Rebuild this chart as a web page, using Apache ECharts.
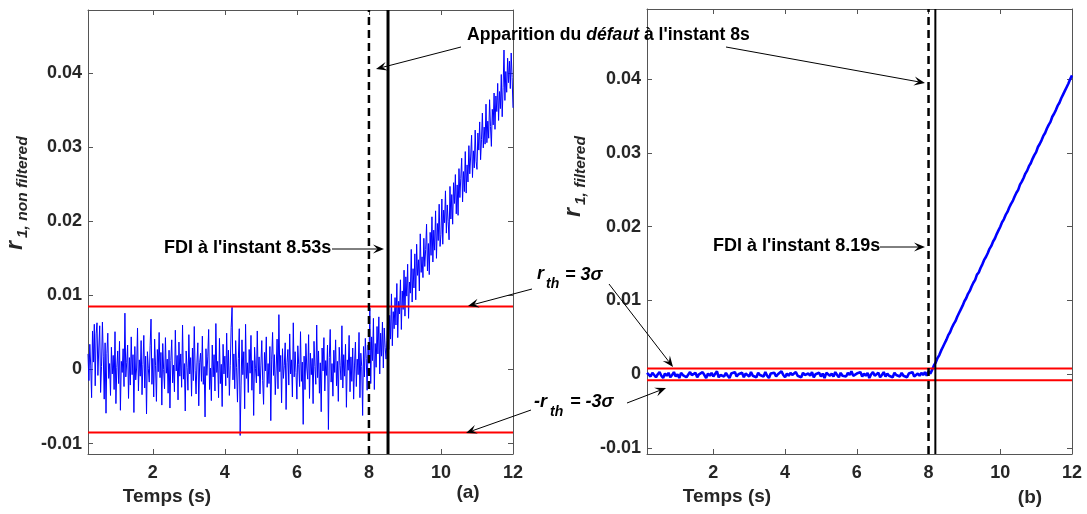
<!DOCTYPE html>
<html><head><meta charset="utf-8">
<script src="https://cdn.jsdelivr.net/npm/echarts@6/dist/echarts.min.js"></script>
<style>html,body{margin:0;padding:0;background:#fff}#c{width:1087px;height:514px}</style>
</head><body><div id="c"></div>
<script>
// ---------------- data ----------------
const xTickValues = [2, 4, 6, 8, 10, 12];
const yTickValues = [-0.01, 0, 0.01, 0.02, 0.03, 0.04];
const faultTime = 8;
const fdiTimeA = 8.53;
const fdiTimeB = 8.19;
const thresholdA = 0.0085;
const thresholdB = 0.0008;
const xRangeA = [0.2, 12], yRangeA = [-0.0114, 0.0485];
const xRangeB = [0.15, 12], yRangeB = [-0.0108, 0.0495];
const xLabel = 'Temps (s)';
const panelLabels = ['(a)', '(b)'];

// (a) non filtered residual, sampled every 0.025 s from 0.2 s, values in 1e-3
const tStartA = 0.2, tStepA = 0.025;
const r1NonFilteredE3 = [
 2.1,-1.5,3.4,0.6,-3.8,5.2,1.0,6.1,-2.2,4.8,
 6.3,-0.8,2.9,5.9,-3.1,0.4,6.4,1.7,-4.0,3.6,
 -5.9,2.2,4.9,-1.2,0.8,-3.5,3.0,-0.6,1.9,-2.7,
 5.1,-4.6,0.3,2.5,-1.9,3.8,-5.5,1.1,-0.4,2.8,
 -2.3,7.6,-1.0,0.9,3.3,-3.9,1.6,-2.1,4.4,-0.7,
 2.0,-5.8,3.1,-1.4,0.2,5.6,-2.9,1.3,-0.9,3.9,
 -3.4,0.7,4.6,-2.5,1.8,-6.0,2.4,0.1,-1.7,3.2,
 6.8,-2.0,1.5,-3.7,4.1,0.5,-4.3,2.7,-0.3,5.0,
 -1.1,2.3,-4.8,3.5,0.0,-2.6,4.3,-0.5,1.4,-3.2,
 2.6,-5.2,1.2,4.0,-1.8,0.6,-3.0,5.3,-0.2,1.9,
 -4.1,3.7,-0.9,2.1,-2.4,6.0,-1.3,0.8,-5.6,2.5,
 0.3,-2.8,4.7,-0.6,1.6,-3.6,2.9,-1.5,5.8,-0.1,
 -3.3,1.0,3.6,-4.9,0.9,2.2,-1.6,4.5,-2.0,0.4,
 -6.4,2.8,-0.8,1.7,5.4,-2.7,0.2,-4.2,3.3,-1.0,
 2.0,-2.9,6.2,-0.4,1.1,-3.8,4.2,-1.9,0.7,-5.0,
 3.4,-0.6,1.8,-2.2,4.9,-1.1,2.6,-3.5,0.5,5.7,
 8.4,-1.4,2.1,-2.6,3.9,0.3,-4.4,1.5,5.5,-8.9,
 -2.1,4.0,-0.7,2.4,-5.3,6.1,-1.2,0.9,-3.1,2.7,
 -0.5,4.6,-2.8,1.2,-6.2,3.0,0.1,-1.8,5.2,-0.9,
 1.7,-3.3,0.6,3.9,-1.5,-4.7,2.3,-0.2,4.4,-2.4,
 0.8,-1.9,3.1,-6.9,1.4,5.0,-0.8,2.0,-3.4,0.2,
 4.1,-2.6,7.4,-0.3,1.9,-4.5,2.8,-1.2,0.5,3.6,
 -5.4,0.9,2.7,-2.1,4.8,-0.6,1.3,-3.7,6.3,-1.0,
 2.4,-0.4,-4.0,3.2,0.7,-2.3,5.1,-1.6,1.0,-7.4,
 1.8,-2.7,3.5,0.2,-1.3,4.7,-3.9,2.2,-0.7,1.5,
 -4.6,3.8,0.4,-2.0,6.0,-1.1,2.5,-3.2,0.9,-5.7,
 2.9,-0.2,4.3,-2.9,1.2,-0.8,3.3,-8.1,1.6,5.4,
 -1.7,0.8,-3.6,2.6,-0.4,4.0,-2.2,1.1,-4.3,3.0,
 0.5,-1.4,5.9,-2.5,2.0,-0.9,3.4,-5.1,1.3,-0.1,
 4.6,-3.0,1.7,-1.6,2.9,-4.0,0.6,3.7,-2.3,1.4,
 -0.7,5.0,-3.8,2.2,0.4,-6.2,3.1,-1.0,4.2,1.5,
 -2.8,3.3,
 0.8,8.3,-1.9,4.4,1.2,6.9,-2.7,3.5,0.3,5.8,
 2.1,7.1,-0.6,4.9,1.8,6.4,0.2,5.6,3.0,1.4,
 3.9,8.0,2.7,7.3,4.1,10.2,3.2,7.8,5.5,9.7,
 6.0,11.6,4.3,9.2,7.5,12.1,5.4,10.6,8.1,13.4,
 7.2,12.5,9.9,14.2,6.9,11.8,10.3,16.2,9.1,13.6,
 11.0,15.6,9.4,16.9,12.7,14.8,10.6,18.3,13.1,15.2,
 12.4,17.7,13.9,16.2,19.6,13.3,17.0,12.8,18.5,15.4,
 20.6,14.5,18.8,16.1,21.4,15.0,19.7,17.4,22.3,16.6,
 18.2,23.0,16.9,21.5,19.8,24.1,18.4,22.2,20.0,17.5,
 24.7,20.3,23.6,19.6,25.2,22.4,26.3,21.0,24.9,20.8,
 27.1,23.2,25.8,28.5,22.6,26.7,24.0,29.4,23.8,27.6,
 25.3,30.2,26.4,28.8,31.6,25.9,29.5,27.2,32.3,28.1,
 27.0,31.9,29.6,33.4,28.3,31.0,34.6,29.9,32.7,30.4,
 35.8,30.6,33.5,31.2,36.4,32.8,30.1,35.1,33.0,37.3,
 32.4,36.9,34.8,38.6,33.6,37.5,35.2,39.8,34.1,38.0,
 43.1,36.3,40.2,37.4,42.0,38.7,41.6,37.9,42.7,39.4,35.3
];

// (b) filtered residual, sampled every 0.05 s from 0.15 s, values in 1e-3
const tStartB = 0.15, tStepB = 0.05;
const r1FilteredE3 = [
 0.2,
 0.1,-0.3,0.2,-0.1,-0.4,0.0,0.3,-0.2,-0.5,0.1,
 -0.2,0.2,-0.4,-0.1,0.3,-0.3,0.0,-0.5,0.2,-0.1,
 0.1,-0.4,-0.2,0.3,-0.1,-0.3,0.2,-0.4,0.0,-0.2,
 0.3,-0.1,-0.5,0.1,-0.2,0.2,-0.3,-0.1,0.4,-0.4,
 -0.1,0.1,-0.3,0.2,-0.2,-0.5,0.1,-0.1,0.3,-0.3,
 0.0,-0.2,0.2,-0.4,0.1,-0.1,-0.3,0.3,-0.2,0.0,
 -0.4,0.2,-0.1,0.1,-0.3,0.3,-0.2,-0.5,0.1,-0.1,
 0.2,-0.3,0.0,-0.2,0.4,-0.1,-0.4,0.1,-0.2,0.2,
 -0.1,-0.3,0.3,-0.2,0.0,-0.4,0.2,-0.1,-0.3,0.1,
 -0.2,0.3,-0.4,0.0,-0.1,0.2,-0.3,0.1,-0.5,0.2,
 0.0,-0.2,0.1,-0.3,0.3,-0.1,-0.4,0.2,-0.2,0.0,
 -0.3,0.2,-0.1,0.4,-0.2,-0.4,0.1,-0.1,0.3,-0.3,
 0.1,-0.2,0.2,-0.5,0.0,0.3,-0.2,-0.1,0.2,-0.4,
 -0.1,0.3,-0.3,0.1,-0.2,0.0,-0.4,0.2,-0.1,0.1,
 -0.3,0.2,-0.2,0.0,-0.4,0.1,-0.1,0.3,-0.3,-0.1,
 0.1,-0.2,0.2,-0.1,0.3,-0.2,0.4,
 0.1,0.6,1.2,1.6,2.2,2.6,3.2,3.7,4.2,4.7,
 5.3,5.7,6.3,6.8,7.2,7.8,8.3,8.8,9.3,9.9,
 10.3,10.9,11.3,11.9,12.4,12.8,13.5,13.8,14.4,14.9,
 15.5,15.9,16.4,17.0,17.4,18.0,18.4,19.0,19.5,20.0,
 20.6,21.0,21.6,22.0,22.6,23.1,23.5,24.1,24.6,25.0,
 25.7,26.1,26.6,27.2,27.6,28.2,28.6,29.2,29.7,30.1,
 30.8,31.2,31.7,32.3,32.7,33.3,33.8,34.2,34.9,35.3,
 35.8,36.4,36.8,37.4,37.9,38.4,38.9,39.4,40.0,40.5
];

// -------------- chart ----------------
const FONT = '"Liberation Sans", Arial, Helvetica, sans-serif';
const TXT = '#262626';
const AX = '#555555';

function pairs(vals, t0, dt) {
  return vals.map((v, i) => [+(t0 + i * dt).toFixed(4), v / 1000]);
}

function xAx(grid, pos, range, show) {
  return {
    type: 'value', gridIndex: grid, position: pos, min: range[0], max: range[1],
    axisLine: { show: true, onZero: false, lineStyle: { color: AX, width: 1 } },
    axisTick: { show: true, inside: true, length: 5, customValues: xTickValues, lineStyle: { color: AX } },
    axisLabel: { show: show, customValues: xTickValues, margin: 10, color: TXT,
      fontFamily: FONT, fontWeight: 'bold', fontSize: 18 },
    splitLine: { show: false }
  };
}
function yAx(grid, pos, range, show) {
  return {
    type: 'value', gridIndex: grid, position: pos, min: range[0], max: range[1],
    axisLine: { show: true, onZero: false, lineStyle: { color: AX, width: 1 } },
    axisTick: { show: true, inside: true, length: 5, customValues: yTickValues, lineStyle: { color: AX } },
    axisLabel: { show: show, customValues: yTickValues, margin: 6, color: TXT,
      fontFamily: FONT, fontWeight: 'bold', fontSize: 18,
      formatter: v => String(+v.toFixed(4)) },
    splitLine: { show: false }
  };
}

function seg(axisIdx, data, color, width, type, z) {
  return { type: 'line', xAxisIndex: axisIdx, yAxisIndex: axisIdx, data: data,
    showSymbol: false, symbol: 'none', silent: true, clip: true, z: z,
    lineStyle: { color: color, width: width, type: type } };
}
function guides(axisIdx, xr, yr, fdi, thr, solidW) {
  return [
    seg(axisIdx, [[xr[0], thr], [xr[1], thr]], '#ff0000', 2, 'solid', 3),
    seg(axisIdx, [[xr[0], -thr], [xr[1], -thr]], '#ff0000', 2, 'solid', 3),
    seg(axisIdx, [[faultTime, yr[0]], [faultTime, yr[1]]], '#000', 2.5, [8, 5], 4),
    seg(axisIdx, [[fdi, yr[0]], [fdi, yr[1]]], '#000', solidW, 'solid', 4)
  ];
}

function arrow(x1, y1, x2, y2) {
  const L = 11, W = 4.5;
  const a = Math.atan2(y2 - y1, x2 - x1);
  const ux = Math.cos(a), uy = Math.sin(a), nx = -uy, ny = ux;
  const bx = x2 - L * ux, by = y2 - L * uy;
  const ix = x2 - 0.6 * L * ux, iy = y2 - 0.6 * L * uy;
  return [
    { type: 'line', silent: true, shape: { x1: x1, y1: y1, x2: ix, y2: iy },
      style: { stroke: '#000', lineWidth: 1 }, z: 100 },
    { type: 'polygon', silent: true,
      shape: { points: [[x2, y2], [bx + W * nx, by + W * ny], [ix, iy], [bx - W * nx, by - W * ny]] },
      style: { fill: '#000' }, z: 100 }
  ];
}
function txt(x, y, text, font, align, color) {
  return { type: 'text', x: x, y: y, silent: true, z: 100,
    style: { text: text, font: font, fill: color || '#000',
      align: align || 'left', textAlign: align || 'left',
      verticalAlign: 'middle', textVerticalAlign: 'middle' } };
}
const B18 = 'bold 18px ' + FONT;
const IB18 = 'italic bold 18px ' + FONT;
const IB14 = 'italic bold 14px ' + FONT;

function yName(x, y, main, sub) {
  return { type: 'group', x: x, y: y, rotation: Math.PI / 2, silent: true, children: [
    txt(0, 0, main, 'italic bold 23px ' + FONT, 'left', TXT),
    txt(12, 7, sub, 'italic bold 15.5px ' + FONT, 'left', TXT)
  ] };
}

const graphics = [].concat(
  [{ type: 'text', x: 467, y: 35, silent: true, z: 100,
     style: { text: '{n|Apparition du }{i|défaut}{n| à l\'instant 8s}',
       align: 'left', textAlign: 'left', verticalAlign: 'middle', textVerticalAlign: 'middle',
       rich: { n: { font: 'bold 17.6px ' + FONT, fill: '#000' }, i: { font: 'italic bold 17.6px ' + FONT, fill: '#000' } } } }],
  arrow(461, 47, 376, 69),
  arrow(726, 47, 925, 83),
  [txt(164, 248, 'FDI à l\'instant 8.53s', B18)],
  arrow(332, 249, 384, 249),
  [txt(713, 246, 'FDI à l\'instant 8.19s', B18)],
  arrow(880, 247, 925, 247),
  [txt(537, 274, 'r', IB18), txt(546, 284, 'th', IB14), txt(565, 275, '= 3σ', IB18)],
  [txt(534, 402, '-r', IB18), txt(550, 412, 'th', IB14), txt(570, 402, '= -3σ', IB18)],
  arrow(532, 289, 468, 306),
  arrow(531, 410, 466, 433),
  arrow(609, 284, 673, 367),
  arrow(627, 403, 666, 388),
  [txt(167, 497, xLabel, 'bold 19px ' + FONT, 'center', TXT),
   txt(727, 497, xLabel, 'bold 19px ' + FONT, 'center', TXT),
   txt(468, 493, panelLabels[0], 'bold 19px ' + FONT, 'center', TXT),
   txt(1030, 498, panelLabels[1], 'bold 19px ' + FONT, 'center', TXT)],
  [yName(16, 250, 'r', '1, non filtered'), yName(574, 217, 'r', '1, filtered')]
);

const chart = echarts.init(document.getElementById('c'), null, { renderer: 'canvas' });
chart.setOption({
  animation: false,
  backgroundColor: '#fff',
  grid: [
    { left: 88, top: 10, width: 425, height: 444 },
    { left: 647, top: 9, width: 425, height: 445 }
  ],
  xAxis: [
    xAx(0, 'bottom', xRangeA, true), xAx(0, 'top', xRangeA, false),
    xAx(1, 'bottom', xRangeB, true), xAx(1, 'top', xRangeB, false)
  ],
  yAxis: [
    yAx(0, 'left', yRangeA, true), yAx(0, 'right', yRangeA, false),
    yAx(1, 'left', yRangeB, true), yAx(1, 'right', yRangeB, false)
  ],
  series: [
    { type: 'line', xAxisIndex: 0, yAxisIndex: 0, data: pairs(r1NonFilteredE3, tStartA, tStepA),
      showSymbol: false, symbol: 'none', clip: true, z: 2, lineStyle: { color: '#0000ff', width: 1 } },
    { type: 'line', xAxisIndex: 2, yAxisIndex: 2, data: pairs(r1FilteredE3, tStartB, tStepB),
      showSymbol: false, symbol: 'none', clip: true, z: 2, lineStyle: { color: '#0000ff', width: 2.6 } }
  ].concat(
    guides(0, xRangeA, yRangeA, fdiTimeA, thresholdA, 3),
    guides(2, xRangeB, yRangeB, fdiTimeB, thresholdB, 2)
  ),
  graphic: graphics
});
</script></body></html>
